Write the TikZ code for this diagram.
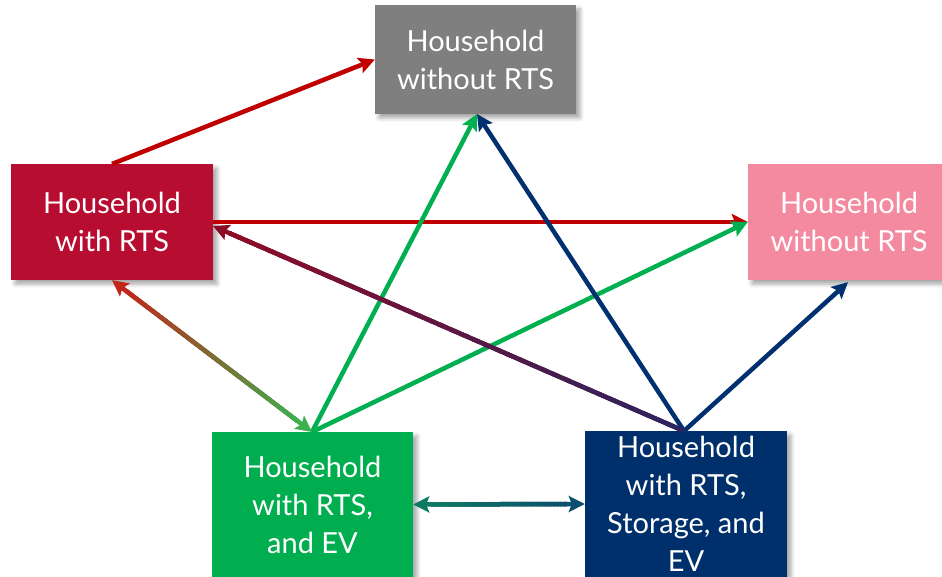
\documentclass[tikz,border=0pt]{standalone}
\usepackage{fontspec}
\setmainfont{Lato}
\usetikzlibrary{arrows.meta,calc,shadows.blur}

\definecolor{boxgray}{HTML}{7F7F7F}
\definecolor{boxred}{HTML}{B60D31}
\definecolor{boxpink}{HTML}{F48AA0}
\definecolor{boxgreen}{HTML}{00AE50}
\definecolor{boxnavy}{HTML}{00306B}
\definecolor{arrred}{HTML}{C00000}
\definecolor{arrgreen}{HTML}{00B050}
\definecolor{arrnavy}{HTML}{003070}
\definecolor{mixredA}{HTML}{C2261B}
\definecolor{mixgreenB}{HTML}{3CB04D}
\definecolor{mixdarkA}{HTML}{8E0B26}
\definecolor{mixdarkB}{HTML}{2A2460}
\definecolor{tealA}{HTML}{0E7A62}
\definecolor{tealB}{HTML}{0C4F6E}

\tikzset{
  hbox/.style={draw=none, text=white, align=center, inner sep=0pt,
    font=\fontsize{29}{38}\selectfont,
    blur shadow={shadow xshift=4pt, shadow yshift=-4pt,
      shadow blur radius=4pt, shadow opacity=35}},
  link/.style={line width=4.5pt, -{Stealth[length=16pt,width=16pt,inset=3pt]}},
  seg/.style={line width=4.5pt, line cap=butt},
  tipA/.style={line width=4.5pt, -{Stealth[length=16pt,width=16pt,inset=3pt]}},
}

% gradient shaft from #1 to #2 coloured from #3 to #4
\newcommand\fadeshaft[4]{%
  \draw[seg, color={#4!50!#3}] (#1) -- (#2);
  \foreach \i in {0,...,39}{%
    \pgfmathsetmacro\ta{\i/40}%
    \pgfmathsetmacro\tb{min(1,(\i+1.6)/40)}%
    \pgfmathsetmacro\pc{100*(\i+0.5)/40}%
    \draw[seg, color={#4!\pc!#3}] ($(#1)!\ta!(#2)$) -- ($(#1)!\tb!(#2)$);
  }%
}

\begin{document}
\begin{tikzpicture}[x=1pt,y=-1pt]
\useasboundingbox (0,0) rectangle (942,577);
\begin{scope}
\clip (0,0) rectangle (942,577);

% boxes
\node[hbox, fill=boxgray,  minimum width=201, minimum height=109] (nogray)  at (475.5,59.5) {Household\\without RTS};
\node[hbox, fill=boxred,   minimum width=202, minimum height=116] (rts)     at (112,222)    {Household\\with RTS};
\node[hbox, fill=boxpink,  minimum width=202, minimum height=116] (nopink)  at (849,222)    {Household\\without RTS};
\node[hbox, fill=boxgreen, minimum width=201, minimum height=145] (rtsev)   at (312.5,504.5) {Household\\with RTS,\\and EV};
\node[hbox, fill=boxnavy,  minimum width=202, minimum height=146] (rtsstev) at (686,504)    {Household\\with RTS,\\Storage, and\\EV};

% anchor points for connectors
\coordinate (redtop)   at (112,164);
\coordinate (redright) at (213,226);
\coordinate (greentop) at (312,432);
\coordinate (navytop)  at (684,431);
\coordinate (graybot)  at (477,114);

% single-colour connectors
\draw[link, arrred]   (redtop) -- (nogray.west);
\draw[link, arrred]   (rts.east) -- (nopink.west);
\draw[link, arrgreen] (greentop) -- (graybot);
\draw[link, arrgreen] (greentop) -- (nopink.west);
\draw[link, arrnavy]  (navytop) -- (graybot);
\draw[link, arrnavy]  (navytop) -- ($(nopink.south)+(-1,2)$);

% red-to-green two-way connector
\coordinate (ra) at ($(rts.south)!18pt!(greentop)$);
\coordinate (gb) at ($(greentop)!18pt!(rts.south)$);
\fadeshaft{ra}{gb}{mixredA}{mixgreenB}
\draw[tipA, mixredA]   ($(rts.south)!20pt!(greentop)$) -- (rts.south);
\draw[tipA, mixgreenB] ($(greentop)!20pt!(rts.south)$) -- (greentop);

% navy-to-red connector
\coordinate (da) at (navytop);
\coordinate (db) at ($(redright)!18pt!(navytop)$);
\fadeshaft{da}{db}{mixdarkB}{mixdarkA}
\draw[tipA, mixdarkA] ($(redright)!20pt!(navytop)$) -- (redright);

% green-to-navy two-way connector
\coordinate (ta) at ($(rtsev.east)!18pt!(rtsstev.west)$);
\coordinate (tb) at ($(rtsstev.west)!18pt!(rtsev.east)$);
\fadeshaft{ta}{tb}{tealA}{tealB}
\draw[tipA, tealA] ($(rtsev.east)!20pt!(rtsstev.west)$) -- (rtsev.east);
\draw[tipA, tealB] ($(rtsstev.west)!20pt!(rtsev.east)$) -- (rtsstev.west);

\end{scope}
\end{tikzpicture}
\end{document}
